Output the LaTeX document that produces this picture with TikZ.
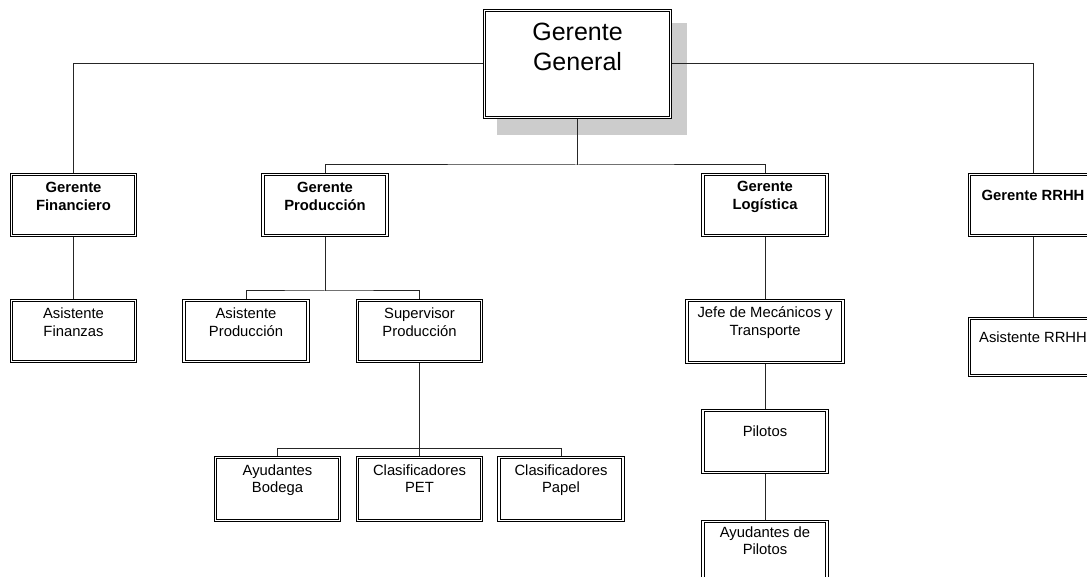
\documentclass[tikz,border=0pt]{standalone}
\usepackage{fontspec}
\setmainfont{Liberation Sans}
\usetikzlibrary{backgrounds}
\newcommand\bxtext[4]{\parbox[b][#2pt][t]{#1pt}{\centering\rule{0pt}{#3pt}#4}}
\tikzset{
  orgbox/.style={draw=black, double=white, double distance=1.8pt, line width=0.9pt,
     inner sep=0pt, outer sep=0pt, anchor=north, fill=white},
  small/.style={font=\fontsize{14.8}{17.8}\selectfont},
  smallbf/.style={font=\fontsize{14.8}{17.8}\selectfont\bfseries},
  big/.style={font=\fontsize{25}{30}\selectfont},
  conn/.style={draw=black!85, line width=1pt},
  shadowfill/.style={fill=black!20}
}
\begin{document}
\begin{tikzpicture}[x=1pt,y=1pt]
\useasboundingbox (0,0) rectangle (1087,-577);
% boxes
\node[orgbox,big] (gg) at (577.5,-10.5) {\bxtext{186}{107}{30.5}{Gerente\\General}};
\node[orgbox,smallbf] (gf) at (73.5,-174.5) {\bxtext{124}{61}{18.2}{Gerente\\Financiero}};
\node[orgbox,smallbf] (gp) at (325,-174.5) {\bxtext{124}{61}{18.2}{Gerente\\Producción}};
\node[orgbox,smallbf] (gl) at (765,-174.5) {\bxtext{124}{61}{17.5}{Gerente\\Logística}};
\node[orgbox,smallbf] (grh) at (1033,-174.5) {\bxtext{127}{61}{26.5}{Gerente RRHH}};
\node[orgbox,small] (af) at (73.5,-300.5) {\bxtext{124}{61}{18}{Asistente\\Finanzas}};
\node[orgbox,small] (ap) at (246,-300.5) {\bxtext{124}{61}{18}{Asistente\\Producción}};
\node[orgbox,small] (sp) at (419.5,-300.5) {\bxtext{124}{61}{18}{Supervisor\\Producción}};
\node[orgbox,small] (jm) at (765,-300.5) {\bxtext{156}{62}{17.5}{Jefe de Mecánicos y\\Transporte}};
\node[orgbox,small] (arh) at (1033,-318.5) {\bxtext{127}{57}{23.8}{Asistente RRHH}};
\node[orgbox,small] (pil) at (765,-410.5) {\bxtext{124}{62}{25.5}{Pilotos}};
\node[orgbox,small] (ayp) at (765,-521.5) {\bxtext{124}{61}{15.5}{Ayudantes de\\Pilotos}};
\node[orgbox,small] (ab) at (277.5,-457.5) {\bxtext{124}{63}{17.5}{Ayudantes\\Bodega}};
\node[orgbox,small] (pet) at (419.5,-457.5) {\bxtext{124}{63}{17.5}{Clasificadores\\PET}};
\node[orgbox,small] (pap) at (561,-457.5) {\bxtext{124}{63}{17.5}{Clasificadores\\Papel}};
% shadow and connectors behind
\begin{pgfonlayer}{background}
\fill[white] (0,0) rectangle (1087,-577);
\fill[shadowfill] ([shift={(12.5,-17.5)}]gg.south west) rectangle ([shift={(16.5,-12.5)}]gg.north east);
\coordinate (j1) at ([yshift=-47.5]gg.south);
\coordinate (j2) at ([yshift=-55.5]gp.south);
\coordinate (j3) at ([yshift=-87]sp.south);
\draw[conn] (gg.west) -| (gf.north);
\draw[conn] (gg.east) -| (grh.north);
\draw[conn] (gg.south) -- (j1);
\draw[conn] (gp.north) |- (j1) -| (gl.north);
\draw[conn] (gf.south) -- (af.north);
\draw[conn] (gp.south) -- (j2);
\draw[conn] (ap.north) |- (j2) -| (sp.north);
\draw[conn] (sp.south) -- (pet.north);
\draw[conn] (ab.north) |- (j3) -| (pap.north);
\draw[conn] (gl.south) -- (jm.north);
\draw[conn] (jm.south) -- (pil.north);
\draw[conn] (pil.south) -- (ayp.north);
\draw[conn] (grh.south) -- (arh.north);
\end{pgfonlayer}
\end{tikzpicture}
\end{document}
